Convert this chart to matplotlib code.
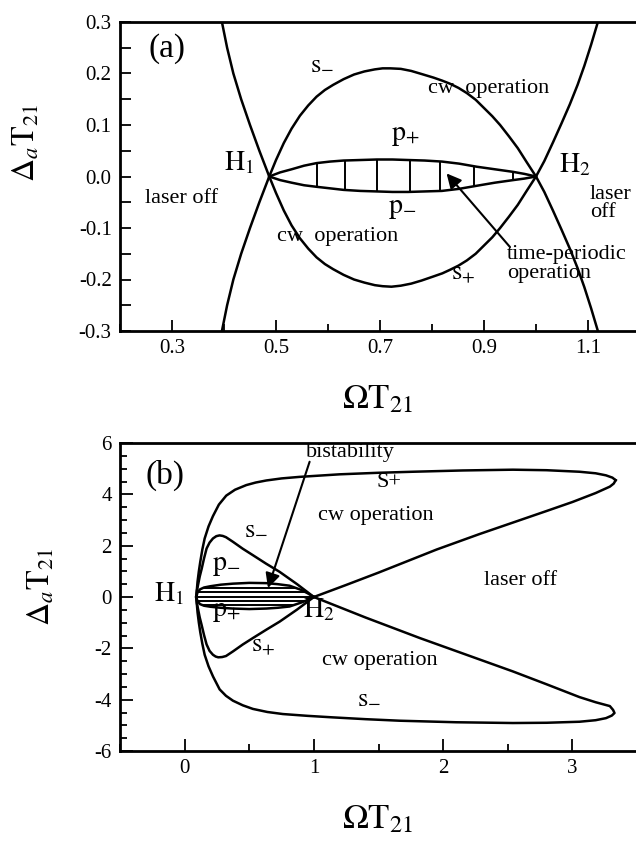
import numpy as np
import matplotlib
matplotlib.use("Agg")
import matplotlib.pyplot as plt
from matplotlib.patches import Polygon
from matplotlib.ticker import MultipleLocator, FormatStrFormatter

plt.rcParams['font.family'] = ['Liberation Serif', 'DejaVu Serif']
plt.rcParams['mathtext.fontset'] = 'stix'
plt.rcParams['axes.unicode_minus'] = False

# ---------------- data: panel (a) ----------------
# upper arch (s-): rises from lower-left, through H1, max, through H2, down to lower-right
a_arch_x = [0.396, 0.406, 0.418, 0.433, 0.450, 0.468, 0.487, 0.500, 0.515, 0.530, 0.546, 0.562,
            0.578, 0.594, 0.610, 0.630, 0.650, 0.670, 0.690, 0.705, 0.720, 0.740, 0.760, 0.780,
            0.803, 0.820, 0.835, 0.851, 0.867, 0.884, 0.900, 0.916, 0.931, 0.948, 0.965, 0.982,
            1.000, 1.016, 1.033, 1.049, 1.065, 1.080, 1.093, 1.106, 1.119]
a_arch_y = [-0.300, -0.250, -0.200, -0.150, -0.100, -0.050, 0.000, 0.032, 0.065, 0.093, 0.118, 0.138,
            0.155, 0.168, 0.178, 0.189, 0.198, 0.204, 0.208, 0.210, 0.210, 0.209, 0.205, 0.199,
            0.192, 0.186, 0.180, 0.172, 0.162, 0.149, 0.133, 0.117, 0.100, 0.078, 0.055, 0.028,
            0.000, -0.030, -0.067, -0.103, -0.140, -0.178, -0.215, -0.256, -0.300]
# lower cup (s+)
a_cup_x = [0.396, 0.406, 0.418, 0.433, 0.450, 0.468, 0.487, 0.500, 0.515, 0.530, 0.546, 0.562,
           0.578, 0.594, 0.610, 0.630, 0.650, 0.670, 0.690, 0.705, 0.722, 0.740, 0.760, 0.780,
           0.803, 0.820, 0.835, 0.851, 0.867, 0.884, 0.900, 0.916, 0.931, 0.948, 0.965, 0.982,
           1.000, 1.016, 1.033, 1.049, 1.065, 1.080, 1.093, 1.106, 1.119]
a_cup_y = [0.300, 0.250, 0.200, 0.150, 0.100, 0.050, 0.000, -0.032, -0.066, -0.095, -0.120, -0.140,
           -0.157, -0.170, -0.180, -0.191, -0.200, -0.206, -0.211, -0.213, -0.214, -0.212, -0.208, -0.202,
           -0.194, -0.188, -0.181, -0.173, -0.163, -0.150, -0.134, -0.118, -0.100, -0.078, -0.055, -0.028,
           0.000, 0.030, 0.067, 0.103, 0.140, 0.178, 0.215, 0.256, 0.300]
# time-periodic lens (p+ top, p- bottom)
a_lens_x = [0.487, 0.508, 0.530, 0.554, 0.578, 0.604, 0.630, 0.662, 0.694, 0.724, 0.754, 0.786,
            0.819, 0.852, 0.886, 0.921, 0.956, 0.978, 1.000]
a_lens_top = [0.000, 0.008, 0.014, 0.021, 0.026, 0.029, 0.031, 0.032, 0.033, 0.033, 0.032, 0.031,
              0.029, 0.025, 0.019, 0.014, 0.009, 0.005, 0.000]
a_lens_bot = [0.000, -0.007, -0.012, -0.017, -0.020, -0.023, -0.026, -0.028, -0.029, -0.030, -0.030, -0.029,
              -0.028, -0.024, -0.018, -0.012, -0.007, -0.004, 0.000]
a_hatch_x = [0.578, 0.633, 0.695, 0.757, 0.815, 0.881, 0.955]

# ---------------- data: panel (b) ----------------
b_outer_up_x = [0.090, 0.095, 0.100, 0.110, 0.121, 0.137, 0.155, 0.185, 0.219, 0.265, 0.322, 0.390,
                0.477, 0.550, 0.632, 0.750, 0.889, 1.200, 1.500, 1.766, 2.150, 2.540, 2.800, 3.055,
                3.180, 3.260, 3.310, 3.335]
b_outer_up_y = [0.00, 0.30, 0.60, 1.00, 1.37, 1.85, 2.28, 2.75, 3.15, 3.60, 3.95, 4.18,
                4.36, 4.46, 4.54, 4.62, 4.68, 4.78, 4.84, 4.88, 4.93, 4.96, 4.94, 4.88,
                4.82, 4.74, 4.65, 4.55]
b_diag_up_x = [3.335, 3.320, 3.290, 3.180, 3.000, 2.800, 2.540, 2.280, 1.950, 1.500, 1.250, 1.000]
b_diag_up_y = [4.55, 4.42, 4.30, 4.05, 3.70, 3.35, 2.90, 2.45, 1.85, 0.95, 0.47, 0.00]
b_outer_lo_x = [0.090, 0.095, 0.100, 0.110, 0.121, 0.137, 0.155, 0.185, 0.220, 0.271, 0.320, 0.374,
                0.450, 0.528, 0.640, 0.760, 0.950, 1.147, 1.400, 1.663, 2.100, 2.540, 2.800, 3.055,
                3.180, 3.260, 3.305, 3.326]
b_outer_lo_y = [0.00, -0.30, -0.60, -1.00, -1.37, -1.82, -2.25, -2.70, -3.10, -3.60, -3.85, -4.04,
                -4.22, -4.36, -4.48, -4.56, -4.63, -4.69, -4.76, -4.82, -4.88, -4.91, -4.90, -4.86,
                -4.80, -4.72, -4.62, -4.52]
b_diag_lo_x = [3.326, 3.315, 3.290, 3.180, 3.055, 2.800, 2.540, 2.180, 1.820, 1.400, 1.000]
b_diag_lo_y = [-4.52, -4.40, -4.25, -4.10, -3.90, -3.40, -2.90, -2.25, -1.60, -0.80, 0.00]
b_inner_up_x = [0.090, 0.095, 0.105, 0.117, 0.132, 0.150, 0.170, 0.193, 0.219, 0.245, 0.270, 0.295,
                0.320, 0.374, 0.450, 0.528, 0.630, 0.735, 0.870, 1.000]
b_inner_up_y = [0.00, 0.25, 0.50, 0.80, 1.10, 1.50, 1.89, 2.12, 2.28, 2.37, 2.40, 2.38,
                2.33, 2.15, 1.88, 1.63, 1.30, 0.98, 0.50, 0.00]
b_inner_lo_x = [0.090, 0.095, 0.105, 0.117, 0.132, 0.150, 0.170, 0.193, 0.219, 0.240, 0.260, 0.290,
                0.320, 0.374, 0.450, 0.528, 0.630, 0.735, 0.870, 1.000]
b_inner_lo_y = [0.00, -0.25, -0.50, -0.80, -1.10, -1.48, -1.85, -2.10, -2.25, -2.32, -2.35, -2.34,
                -2.30, -2.12, -1.85, -1.60, -1.28, -0.96, -0.49, 0.00]
b_lens_x = [0.090, 0.100, 0.120, 0.150, 0.200, 0.280, 0.374, 0.500, 0.632, 0.720, 0.812, 0.900,
            0.950, 1.000]
b_lens_top = [0.00, 0.18, 0.30, 0.37, 0.42, 0.48, 0.52, 0.55, 0.54, 0.50, 0.44, 0.28, 0.15, 0.00]
b_lens_bot = [0.00, -0.17, -0.28, -0.34, -0.38, -0.42, -0.45, -0.47, -0.45, -0.42, -0.37, -0.22,
              -0.12, 0.00]
b_hatch_y = [0.36, 0.18, 0.00, -0.17, -0.32]

a_xticks = [0.3, 0.5, 0.7, 0.9, 1.1]
b_xticks = [0, 1, 2, 3]

LW = 1.8
fig = plt.figure(figsize=(6.36, 8.42), dpi=100)
W, H = 636.0, 842.0
ax_a = fig.add_axes([120 / W, 1 - 331 / H, 520 / W, 309 / H])
ax_b = fig.add_axes([120 / W, 1 - 751 / H, 517 / W, 308 / H])

for ax in (ax_a, ax_b):
    ax.spines['right'].set_visible(False)
    for s in ('left', 'top', 'bottom'):
        ax.spines[s].set_linewidth(2.0)
    ax.tick_params(which='both', direction='in', top=False, right=False,
                   labelsize=15, width=1.3, pad=6)

# ---------- panel (a) ----------
ax_a.plot(a_arch_x, a_arch_y, color='k', lw=LW)
ax_a.plot(a_cup_x, a_cup_y, color='k', lw=LW)
ax_a.plot(a_lens_x, a_lens_top, color='k', lw=LW)
ax_a.plot(a_lens_x, a_lens_bot, color='k', lw=LW)
lens_a = Polygon(np.column_stack([a_lens_x + a_lens_x[::-1], a_lens_top + a_lens_bot[::-1]]),
                 closed=True, fill=False, edgecolor='none')
ax_a.add_patch(lens_a)
vl = ax_a.vlines(a_hatch_x, min(a_lens_bot), max(a_lens_top), color='k', lw=1.4)
vl.set_clip_path(lens_a)

ax_a.set_xlim(0.2, 1.2)
ax_a.set_ylim(-0.3, 0.3)
ax_a.set_xticks(a_xticks)
ax_a.xaxis.set_minor_locator(MultipleLocator(0.1))
ax_a.yaxis.set_major_locator(MultipleLocator(0.1))
ax_a.yaxis.set_minor_locator(MultipleLocator(0.05))
ax_a.yaxis.set_major_formatter(FormatStrFormatter('%.1f'))
ax_a.tick_params(axis='x', which='major', length=8)
ax_a.tick_params(axis='x', which='minor', length=5)
ax_a.tick_params(axis='y', which='both', length=8)

fs = 16
ax_a.text(0.29, 0.249, '(a)', fontsize=24, ha='center', va='center')
ax_a.text(0.588, 0.22, r'$\mathrm{s}_{-}$', fontsize=19, ha='center', va='center')
ax_a.text(0.908, 0.171, 'cw  operation', fontsize=fs, ha='center', va='center')
ax_a.text(0.748, 0.080, r'$\mathrm{p}_{+}$', fontsize=20, ha='center', va='center')
ax_a.text(0.428, 0.026, r'$\mathrm{H}_{1}$', fontsize=20, ha='center', va='center')
ax_a.text(1.075, 0.022, r'$\mathrm{H}_{2}$', fontsize=20, ha='center', va='center')
ax_a.text(0.319, -0.042, 'laser off', fontsize=fs, ha='center', va='center')
ax_a.text(1.104, -0.053, 'laser\noff', fontsize=fs, ha='left', va='center', linespacing=0.95)
ax_a.text(0.742, -0.062, r'$\mathrm{p}_{-}$', fontsize=20, ha='center', va='center')
ax_a.text(0.618, -0.117, 'cw  operation', fontsize=fs, ha='center', va='center')
ax_a.text(0.944, -0.170, 'time-periodic\noperation', fontsize=fs, ha='left', va='center',
          linespacing=0.95)
ax_a.text(0.86, -0.191, r'$\mathrm{s}_{+}$', fontsize=19, ha='center', va='center')
ax_a.annotate('', xy=(0.828, 0.006), xytext=(0.95, -0.137),
              arrowprops=dict(arrowstyle='-|>', color='k', lw=1.5, mutation_scale=22,
                              shrinkA=0, shrinkB=0))

# ---------- panel (b) ----------
outer_x = b_outer_up_x[::-1] + b_outer_lo_x[1:] + b_diag_lo_x[1:]
outer_y = b_outer_up_y[::-1] + b_outer_lo_y[1:] + b_diag_lo_y[1:]
ax_b.plot(outer_x, outer_y, color='k', lw=LW)
ax_b.plot(b_diag_up_x, b_diag_up_y, color='k', lw=LW)
ax_b.plot(b_inner_up_x, b_inner_up_y, color='k', lw=LW)
ax_b.plot(b_inner_lo_x, b_inner_lo_y, color='k', lw=LW)
ax_b.plot(b_lens_x, b_lens_top, color='k', lw=LW)
ax_b.plot(b_lens_x, b_lens_bot, color='k', lw=LW)
lens_b = Polygon(np.column_stack([b_lens_x + b_lens_x[::-1], b_lens_top + b_lens_bot[::-1]]),
                 closed=True, fill=False, edgecolor='none')
ax_b.add_patch(lens_b)
hl = ax_b.hlines(b_hatch_y, min(b_lens_x), max(b_lens_x), color='k', lw=1.4)
hl.set_clip_path(lens_b)

ax_b.set_xlim(-0.5, 3.5)
ax_b.set_ylim(-6, 6)
ax_b.set_xticks(b_xticks)
ax_b.xaxis.set_minor_locator(MultipleLocator(0.5))
ax_b.yaxis.set_major_locator(MultipleLocator(2))
ax_b.yaxis.set_minor_locator(MultipleLocator(0.5))
ax_b.tick_params(axis='both', which='major', length=9)
ax_b.tick_params(axis='both', which='minor', length=5)

ax_b.text(-0.155, 4.75, '(b)', fontsize=24, ha='center', va='center')
ax_b.text(1.28, 5.62, 'bistability', fontsize=fs, ha='center', va='center')
ax_b.text(1.585, 4.45, 'S+', fontsize=fs, ha='center', va='center')
ax_b.text(1.483, 3.19, 'cw operation', fontsize=fs, ha='center', va='center')
ax_b.text(0.554, 2.67, r'$\mathrm{s}_{-}$', fontsize=19, ha='center', va='center')
ax_b.text(0.322, 1.23, r'$\mathrm{p}_{-}$', fontsize=20, ha='center', va='center')
ax_b.text(-0.12, 0.12, r'$\mathrm{H}_{1}$', fontsize=20, ha='center', va='center')
ax_b.text(2.6, 0.65, 'laser off', fontsize=fs, ha='center', va='center')
ax_b.text(0.322, -0.55, r'$\mathrm{p}_{+}$', fontsize=20, ha='center', va='center')
ax_b.text(1.04, -0.5, r'$\mathrm{H}_{2}$', fontsize=20, ha='center', va='center')
ax_b.text(0.608, -1.95, r'$\mathrm{s}_{+}$', fontsize=19, ha='center', va='center')
ax_b.text(1.51, -2.48, 'cw operation', fontsize=fs, ha='center', va='center')
ax_b.text(1.43, -3.9, r'$\mathrm{s}_{-}$', fontsize=19, ha='center', va='center')
ax_b.annotate('', xy=(0.645, 0.35), xytext=(0.967, 5.27),
              arrowprops=dict(arrowstyle='-|>', color='k', lw=1.5, mutation_scale=22,
                              shrinkA=0, shrinkB=0))

# axis labels
ylab = r'$\Delta_{a}\mathrm{T}_{21}$'
xlab = r'$\Omega\mathrm{T}_{21}$'
fig.text(27 / W, 1 - 143 / H, ylab, rotation=90, fontsize=23, ha='center', va='center')
fig.text(42 / W, 1 - 587 / H, ylab, rotation=90, fontsize=23, ha='center', va='center')
fig.text(378 / W, 1 - 400 / H, xlab, fontsize=25, ha='center', va='center')
fig.text(378 / W, 1 - 820 / H, xlab, fontsize=25, ha='center', va='center')

fig.savefig('out.png', dpi=100)
